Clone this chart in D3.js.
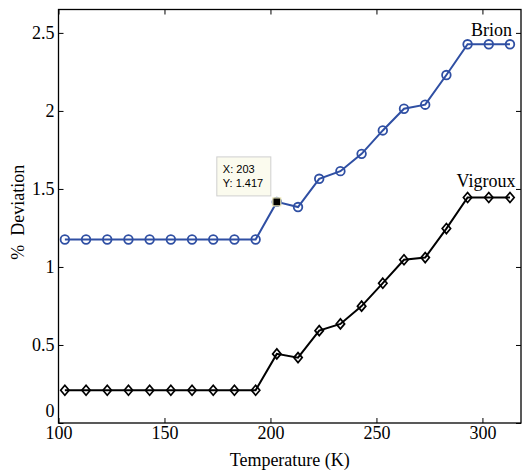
<!DOCTYPE html>
<html>
<head>
<meta charset="utf-8">
<script src="https://cdn.jsdelivr.net/npm/d3@7"></script>
<style>
body { margin: 0; background: #fff; }
</style>
</head>
<body>
<div id="chart"></div>
<script>
// temperature (K) for each sample
var temps = [103, 113, 123, 133, 143, 153, 163, 173, 183, 193, 203,
             213, 223, 233, 243, 253, 263, 273, 283, 293, 303, 313];
var brion = [1.176, 1.176, 1.176, 1.176, 1.176, 1.176, 1.176, 1.176, 1.176, 1.176, 1.417,
             1.384, 1.565, 1.614, 1.725, 1.875, 2.014, 2.04, 2.23, 2.427, 2.427, 2.427];
var vigroux = [0.21, 0.21, 0.21, 0.21, 0.21, 0.21, 0.21, 0.21, 0.21, 0.21, 0.443,
               0.419, 0.592, 0.635, 0.749, 0.896, 1.046, 1.06, 1.246, 1.445, 1.445, 1.445];
var xTicks = [100, 150, 200, 250, 300];
var yTicks = [0, 0.5, 1, 1.5, 2, 2.5];
var labelX = [314, 315.6];
var labelY = [2.478, 1.514];
var seriesNames = ["Brion", "Vigroux"];
var cursorX = 203, cursorY = 1.417;

var serifFont = "Liberation Serif";
var sansFont = "Liberation Sans";
var fontSize = 18;

var W = 523, H = 473;
var margin = {top: 9.5, right: 2, bottom: 50, left: 58.5};
var width = W - margin.left - margin.right,
    height = H - margin.top - margin.bottom;

var svg = d3.select("#chart").append("svg")
    .attr("width", W)
    .attr("height", H);

var g = svg.append("g")
    .attr("transform", "translate(" + margin.left + "," + margin.top + ")");

var x = d3.scaleLinear().domain([100, 318.2]).range([0, width]);
var y = d3.scaleLinear().domain([0, 2.65]).range([height, 0]);

// axes, MATLAB style: ticks point inward on all four sides
function styleAxis(sel) {
    sel.attr("font-family", serifFont).attr("font-size", fontSize);
    sel.select(".domain").remove();
    sel.selectAll(".tick line").attr("stroke", "#000").attr("stroke-width", 1);
    sel.selectAll(".tick text").attr("fill", "#000");
}

g.append("g")
    .attr("transform", "translate(0," + height + ")")
    .call(d3.axisBottom(x).tickValues(xTicks).tickFormat(d3.format("d"))
        .tickSizeInner(-5).tickSizeOuter(0).tickPadding(3))
    .call(styleAxis);

g.append("g")
    .call(d3.axisTop(x).tickValues(xTicks).tickFormat("")
        .tickSizeInner(-5).tickSizeOuter(0))
    .call(styleAxis);

var yAxis = g.append("g")
    .call(d3.axisLeft(y).tickValues(yTicks).tickFormat(d3.format("~g"))
        .tickSizeInner(-5).tickSizeOuter(0).tickPadding(4))
    .call(styleAxis);
// the zero label sits a little above the corner
yAxis.selectAll(".tick text").filter(function (d) { return d === 0; })
    .attr("dy", "-0.34em");

g.append("g")
    .attr("transform", "translate(" + width + ",0)")
    .call(d3.axisRight(y).tickValues(yTicks).tickFormat("")
        .tickSizeInner(-5).tickSizeOuter(0))
    .call(styleAxis);

g.append("rect")
    .attr("width", width)
    .attr("height", height)
    .attr("fill", "none")
    .attr("stroke", "#000")
    .attr("stroke-width", 1.3);

// series
var blue = "#2f4fa3";
var line = d3.line()
    .x(function (d) { return x(d[0]); })
    .y(function (d) { return y(d[1]); });

var brionPts = temps.map(function (t, i) { return [t, brion[i]]; });
var vigrouxPts = temps.map(function (t, i) { return [t, vigroux[i]]; });

g.append("path")
    .datum(brionPts)
    .attr("d", line)
    .attr("fill", "none")
    .attr("stroke", blue)
    .attr("stroke-width", 2);

g.selectAll(".brion")
    .data(brionPts)
    .enter().append("circle")
    .attr("class", "brion")
    .attr("cx", function (d) { return x(d[0]); })
    .attr("cy", function (d) { return y(d[1]); })
    .attr("r", 4.3)
    .attr("fill", "none")
    .attr("stroke", blue)
    .attr("stroke-width", 1.8);

g.append("path")
    .datum(vigrouxPts)
    .attr("d", line)
    .attr("fill", "none")
    .attr("stroke", "#000")
    .attr("stroke-width", 2);

g.selectAll(".vigroux")
    .data(vigrouxPts)
    .enter().append("path")
    .attr("class", "vigroux")
    .attr("transform", function (d) { return "translate(" + x(d[0]) + "," + y(d[1]) + ")"; })
    .attr("d", "M0,-5L4.2,0L0,5L-4.2,0Z")
    .attr("fill", "none")
    .attr("stroke", "#000")
    .attr("stroke-width", 1.7);

// series labels
g.selectAll(".lbl")
    .data(seriesNames)
    .enter().append("text")
    .attr("class", "lbl")
    .attr("x", function (d, i) { return x(labelX[i]); })
    .attr("y", function (d, i) { return y(labelY[i]); })
    .attr("text-anchor", "end")
    .attr("font-family", serifFont)
    .attr("font-size", fontSize)
    .text(function (d) { return d; });

// data cursor
var cx = x(cursorX), cy = y(cursorY);
var tip = g.append("g")
    .attr("transform", "translate(" + (cx - 60) + "," + (cy - 45) + ")")
    .attr("font-family", sansFont)
    .attr("font-size", 11);
tip.append("rect")
    .attr("width", 54)
    .attr("height", 39)
    .attr("fill", "#fbfbee")
    .attr("stroke", "#cfcfcf")
    .attr("stroke-width", 1);
tip.append("text")
    .attr("x", 6).attr("y", 16)
    .text("X: " + cursorX);
tip.append("text")
    .attr("x", 6).attr("y", 30)
    .text("Y: " + cursorY);

g.append("rect")
    .attr("x", cx - 4).attr("y", cy - 4)
    .attr("width", 8).attr("height", 8)
    .attr("fill", "#000")
    .attr("stroke", "#f3efc0")
    .attr("stroke-width", 1.2);

// axis titles
svg.append("text")
    .attr("x", margin.left + width / 2)
    .attr("y", 466)
    .attr("text-anchor", "middle")
    .attr("font-family", serifFont)
    .attr("font-size", fontSize)
    .text("Temperature (K)");

svg.append("text")
    .attr("transform", "translate(24," + (margin.top + height / 2 - 4) + ") rotate(-90)")
    .attr("text-anchor", "middle")
    .attr("font-family", serifFont)
    .attr("font-size", fontSize)
    .attr("xml:space", "preserve")
    .style("white-space", "pre")
    .text("%  Deviation");
</script>
</body>
</html>
